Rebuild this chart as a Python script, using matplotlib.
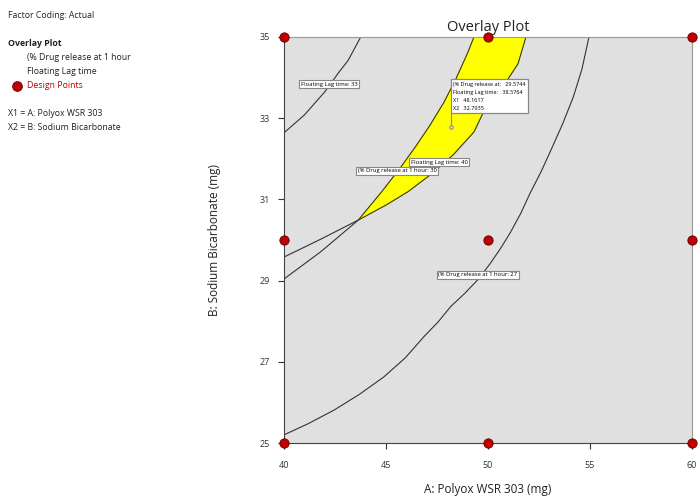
import matplotlib
matplotlib.use('Agg')
import matplotlib.pyplot as plt

plt.rcParams['font.family'] = ['Open Sans', 'DejaVu Sans']

# design points (A: Polyox, B: Sodium Bicarbonate)
design_x = [40, 40, 40, 50, 50, 50, 60, 60, 60]
design_y = [25, 30, 35, 25, 30, 35, 25, 30, 35]

# contour lines
fl33_x = [40.0, 41.0, 42.0, 42.66, 43.15, 43.76]
fl33_y = [32.64, 33.08, 33.65, 34.11, 34.43, 35.0]

fl40_x = [40.0, 41.8, 43.64, 45.0, 46.08, 47.16, 48.3, 49.31, 49.74, 50.7, 51.47, 51.86]
fl40_y = [29.58, 30.02, 30.49, 30.86, 31.19, 31.60, 32.10, 32.66, 33.11, 33.75, 34.34, 35.0]

dr30_x = [40.0, 41.8, 43.64, 44.79, 45.69, 46.45, 47.16, 47.85, 48.43, 49.02, 49.31]
dr30_y = [29.04, 29.71, 30.49, 31.19, 31.77, 32.30, 32.83, 33.40, 33.97, 34.63, 35.0]

dr27_x = [40.0, 41.2, 42.45, 43.7, 44.90, 45.95, 46.86, 47.55, 48.17, 48.85, 49.48,
          50.08, 50.6, 51.08, 51.6, 52.06, 52.6, 53.09, 53.65, 54.18, 54.6, 54.95]
dr27_y = [25.20, 25.48, 25.81, 26.20, 26.63, 27.10, 27.62, 27.98, 28.36, 28.68, 29.01,
          29.40, 29.78, 30.17, 30.65, 31.15, 31.68, 32.22, 32.85, 33.52, 34.20, 35.0]

# flag
flag_x, flag_y = 48.1617, 32.7935
flag_dr, flag_fl = 29.5744, 38.5764

fig = plt.figure(figsize=(6.98, 4.99), dpi=100)
ax = fig.add_axes([0.4069, 0.1122, 0.5845, 0.8137])
ax.set_facecolor('#e0e0e0')

# feasible (yellow) region: between dr30 and fl40 above their crossing
poly_x = dr30_x[2:] + fl40_x[2:][::-1]
poly_y = dr30_y[2:] + fl40_y[2:][::-1]
ax.fill(poly_x, poly_y, color='#ffff00', zorder=1)

lc = '#333333'
for xs, ys in [(fl33_x, fl33_y), (fl40_x, fl40_y), (dr30_x, dr30_y), (dr27_x, dr27_y)]:
    ax.plot(xs, ys, color=lc, lw=0.8, zorder=2)

box = dict(boxstyle='square,pad=0.25', fc='white', ec='#888888', lw=0.8)
lab_fs = 4.2
ax.text(42.2, 33.84, 'Floating Lag time: 33', fontsize=lab_fs, ha='center', va='center', bbox=box, zorder=4)
ax.text(47.6, 31.91, 'Floating Lag time: 40', fontsize=lab_fs, ha='center', va='center', bbox=box, zorder=4)
ax.text(45.55, 31.70, '(% Drug release at 1 hour: 30', fontsize=lab_fs, ha='center', va='center', bbox=box, zorder=4)
ax.text(49.5, 29.14, '(% Drug release at 1 hour: 27', fontsize=lab_fs, ha='center', va='center', bbox=box, zorder=4)

# flag box
ax.plot([flag_x, flag_x], [flag_y, 33.2], color='#888888', lw=0.8, zorder=4)
ax.plot(flag_x, flag_y, 'o', ms=2.5, mfc='#e0e0e0', mec='#777777', mew=0.6, zorder=5)
flag_txt = ('(% Drug release at:   {:.4f}\nFloating Lag time:   {:.4f}\nX1   {:.4f}\nX2   {:.4f}'
            .format(flag_dr, flag_fl, flag_x, flag_y))
ax.text(48.3, 33.18, flag_txt, fontsize=4.0, ha='left', va='bottom', linespacing=1.75,
        bbox=dict(boxstyle='square,pad=0.45', fc='white', ec='#888888', lw=0.9), zorder=4)

ax.scatter(design_x, design_y, s=45, c='#c00000', edgecolors='#600000', linewidths=0.6,
           zorder=6, clip_on=False)

ax.set_xlim(40, 60)
ax.set_ylim(25, 35)
ax.set_xticks([40, 45, 50, 55, 60])
ax.set_yticks([25, 27, 29, 31, 33, 35])
ax.tick_params(labelsize=6.5, colors='#333333', length=4, width=0.8)
ax.tick_params(axis='x', pad=9)
ax.tick_params(axis='y', pad=6)
for s in ['left', 'bottom']:
    ax.spines[s].set_color('#444444')
for s in ['top', 'right']:
    ax.spines[s].set_color('#999999')

ax.set_title('Overlay Plot', fontsize=10.5, color='#222222', pad=4)
ax.set_xlabel('A: Polyox WSR 303 (mg)', fontsize=8.5, color='#222222', labelpad=9)
ax.set_ylabel('B: Sodium Bicarbonate (mg)', fontsize=8.5, color='#222222', labelpad=28)

# left-hand legend text
tc = '#222222'
fs = 6.3
fig.text(8 / 698, 1 - 15 / 499, 'Factor Coding: Actual', fontsize=fs, color=tc, va='center')
fig.text(8 / 698, 1 - 43 / 499, 'Overlay Plot', fontsize=fs, color=tc, va='center', weight='bold')
fig.text(27 / 698, 1 - 57 / 499, '(% Drug release at 1 hour', fontsize=fs, color=tc, va='center')
fig.text(27 / 698, 1 - 71 / 499, 'Floating Lag time', fontsize=fs, color=tc, va='center')
fig.text(27 / 698, 1 - 86 / 499, 'Design Points', fontsize=fs, color='#c00000', va='center')
fig.add_artist(matplotlib.lines.Line2D([17 / 698], [1 - 86 / 499], marker='o', ms=7,
                                       mfc='#c00000', mec='#600000', mew=0.6))
fig.text(8 / 698, 1 - 114 / 499, 'X1 = A: Polyox WSR 303', fontsize=fs, color=tc, va='center')
fig.text(8 / 698, 1 - 128 / 499, 'X2 = B: Sodium Bicarbonate', fontsize=fs, color=tc, va='center')

fig.savefig('out.png', dpi=100)
